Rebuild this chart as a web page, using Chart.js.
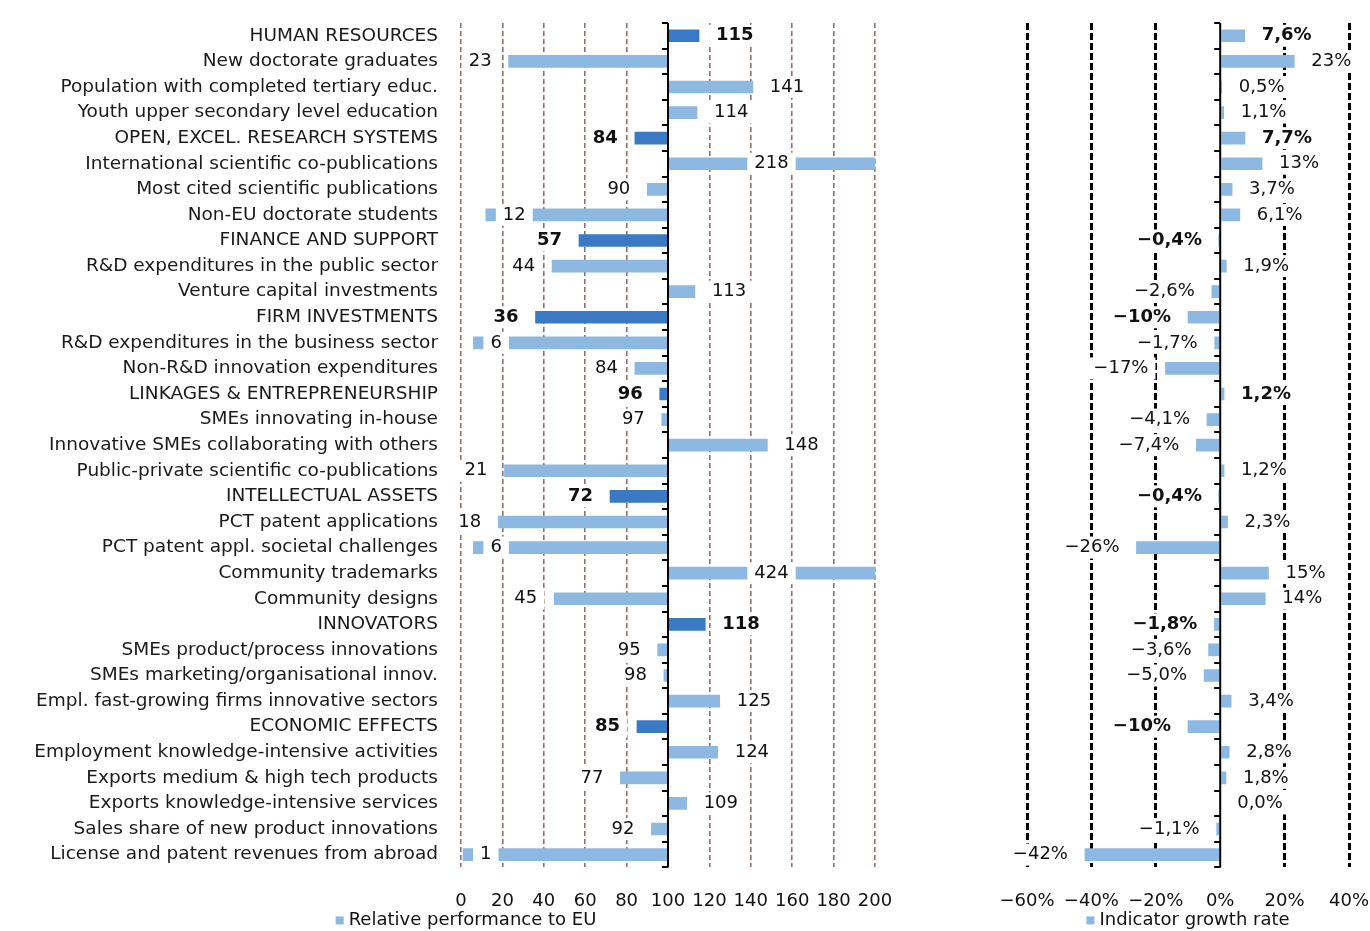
<!DOCTYPE html>
<html>
<head>
<meta charset="utf-8">
<script src="https://cdn.jsdelivr.net/npm/chart.js@4/dist/chart.umd.min.js"></script>
<style>
  body { margin: 0; background: #fff; overflow: hidden; }
  #leftBox, #rightBox { position: absolute; top: 0; height: 931px; overflow: hidden; }
  #leftBox { left: 0; }
  #rightBox { left: 990px; }
</style>
</head>
<body>
<div id="leftBox"><canvas id="perfChart" width="932" height="955"></canvas></div>
<div id="rightBox"><canvas id="growthChart" width="380" height="955"></canvas></div>
<script>
const categories = [
  'HUMAN RESOURCES',
  'New doctorate graduates',
  'Population with completed tertiary educ.',
  'Youth upper secondary level education',
  'OPEN, EXCEL. RESEARCH SYSTEMS',
  'International scientific co-publications',
  'Most cited scientific publications',
  'Non-EU doctorate students',
  'FINANCE AND SUPPORT',
  'R&D expenditures in the public sector',
  'Venture capital investments',
  'FIRM INVESTMENTS',
  'R&D expenditures in the business sector',
  'Non-R&D innovation expenditures',
  'LINKAGES & ENTREPRENEURSHIP',
  'SMEs innovating in-house',
  'Innovative SMEs collaborating with others',
  'Public-private scientific co-publications',
  'INTELLECTUAL ASSETS',
  'PCT patent applications',
  'PCT patent appl. societal challenges',
  'Community trademarks',
  'Community designs',
  'INNOVATORS',
  'SMEs product/process innovations',
  'SMEs marketing/organisational innov.',
  'Empl. fast-growing firms innovative sectors',
  'ECONOMIC EFFECTS',
  'Employment knowledge-intensive activities',
  'Exports medium & high tech products',
  'Exports knowledge-intensive services',
  'Sales share of new product innovations',
  'License and patent revenues from abroad'
];

// rows that are dimension headers (bold labels, darker bars)
const headerRows = [0, 4, 8, 11, 14, 18, 23, 27];

const relPerformance = [115, 23, 141, 114, 84, 218, 90, 12, 57, 44, 113, 36, 6, 84, 96, 97, 148,
  21, 72, 18, 6, 424, 45, 118, 95, 98, 125, 85, 124, 77, 109, 92, 1];

const growthRate = [7.6, 23, 0.5, 1.1, 7.7, 13, 3.7, 6.1, -0.4, 1.9, -2.6, -10, -1.7, -17, 1.2,
  -4.1, -7.4, 1.2, -0.4, 2.3, -26, 15, 14, -1.8, -3.6, -5.0, 3.4, -10, 2.8, 1.8, 0.0, -1.1, -42];

const perfTicks = [0, 20, 40, 60, 80, 100, 120, 140, 160, 180, 200];
const growthTicks = [-60, -40, -20, 0, 20, 40];

const lightBlue = '#8cb8e2';
const darkBlue = '#3a7ac4';
const FONT = 'DejaVu Sans';
const MINUS = '\u2212';

Chart.defaults.font.family = FONT;
Chart.defaults.font.size = 18;
Chart.defaults.color = '#1a1a1a';
Chart.defaults.animation = false;

function fmtGrowth(v) {
  const a = Math.abs(v);
  const s = (a >= 10 ? a.toFixed(0) : a.toFixed(1)).replace('.', ',');
  return (v < 0 ? MINUS : '') + s + '%';
}

// no extra room for tick label overhang, the plot area is placed by the padding
function noOverhang(s) {
  s.paddingTop = 0; s.paddingBottom = 0; s.paddingLeft = 0; s.paddingRight = 0;
}

// axis line drawn at the base value with small ticks between the rows
const baseAxis = {
  id: 'baseAxis',
  afterDatasetsDraw(chart, args, opts) {
    const { ctx, chartArea, scales: { x, y } } = chart;
    const px = x.getPixelForValue(opts.at);
    ctx.save();
    ctx.strokeStyle = '#000';
    ctx.lineWidth = 2;
    ctx.beginPath();
    ctx.moveTo(px, chartArea.top);
    ctx.lineTo(px, chartArea.bottom);
    for (let i = 0; i <= categories.length; i++) {
      const yy = Math.round(y.getPixelForValue(i - 0.5));
      ctx.moveTo(px - 6, yy);
      ctx.lineTo(px, yy);
    }
    ctx.stroke();
    ctx.restore();
  }
};

// value labels with white boxes behind them
const valueLabels = {
  id: 'valueLabels',
  afterDatasetsDraw(chart, args, opts) {
    const { ctx, chartArea, scales: { x, y } } = chart;
    const gap = 17, pad = 7;
    ctx.save();
    ctx.textBaseline = 'middle';
    opts.values.forEach((v, i) => {
      const head = headerRows.includes(i);
      const txt = opts.format(v);
      ctx.font = (head ? 'bold ' : '') + '18px "' + FONT + '"';
      const w = ctx.measureText(txt).width;
      const yy = y.getPixelForValue(i);
      const end = x.getPixelForValue(Math.min(Math.max(v, x.min), x.max));
      let tx;
      if (v > x.max) {
        const mid = (x.getPixelForValue(opts.base) + x.getPixelForValue(x.max)) / 2;
        tx = mid - w / 2;
      } else if (v >= opts.base) {
        tx = end + gap;
      } else {
        tx = end - gap - w;
        if (tx < chartArea.left - opts.slack) tx = end + gap;
      }
      ctx.fillStyle = '#fff';
      ctx.fillRect(tx - pad, yy - 11, w + pad * 2, 22);
      ctx.fillStyle = '#111';
      ctx.fillText(txt, tx, yy);
    });
    ctx.restore();
  }
};

// small square marker and series name under the tick labels
const bottomLegend = {
  id: 'bottomLegend',
  afterDraw(chart, args, opts) {
    const { ctx, chartArea } = chart;
    const label = chart.data.datasets[0].label;
    ctx.save();
    ctx.font = '18px "' + FONT + '"';
    const w = ctx.measureText(label).width;
    const x0 = opts.cx - (w + 13) / 2;
    const yy = chartArea.bottom + 53;
    ctx.fillStyle = lightBlue;
    ctx.fillRect(x0, yy - 4, 8, 8);
    ctx.fillStyle = '#111';
    ctx.textBaseline = 'middle';
    ctx.fillText(label, x0 + 13, yy);
    ctx.restore();
  }
};

new Chart(document.getElementById('perfChart'), {
  type: 'bar',
  data: {
    labels: categories,
    datasets: [{
      label: 'Relative performance to EU',
      data: relPerformance.map(v => [100, v]),
      backgroundColor: c => headerRows.includes(c.dataIndex) ? darkBlue : lightBlue,
      barThickness: 12,
      borderSkipped: false
    }]
  },
  options: {
    indexAxis: 'y',
    responsive: false,
    layout: { padding: { top: 23, right: 57, left: 0, bottom: 20 } },
    plugins: {
      legend: { display: false },
      tooltip: { enabled: false },
      baseAxis: { at: 100 },
      valueLabels: { values: relPerformance, base: 100, slack: 12, format: v => String(v) },
      bottomLegend: { cx: 466 }
    },
    scales: {
      x: {
        min: 0, max: 200,
        afterBuildTicks: s => { s.ticks = perfTicks.map(v => ({ value: v })); },
        afterFit: noOverhang,
        grid: {
          color: c => c.tick && c.tick.value === 100 ? 'rgba(0,0,0,0)' : '#8d716a',
          lineWidth: 1.6,
          drawTicks: false
        },
        border: { display: false, dash: [5, 3] },
        ticks: { padding: 23, maxRotation: 0, autoSkip: false, color: '#111' }
      },
      y: {
        grid: { display: false, drawTicks: false },
        border: { display: false },
        ticks: { padding: 23, autoSkip: false, color: '#1a1a1a', font: { size: 18.5 } },
        afterFit: s => { s.width = 461; noOverhang(s); }
      }
    }
  },
  plugins: [baseAxis, valueLabels, bottomLegend]
});

new Chart(document.getElementById('growthChart'), {
  type: 'bar',
  data: {
    labels: categories,
    datasets: [{
      label: 'Indicator growth rate',
      data: growthRate,
      backgroundColor: lightBlue,
      barThickness: 12
    }]
  },
  options: {
    indexAxis: 'y',
    responsive: false,
    layout: { padding: { top: 23, right: 21, left: 37, bottom: 20 } },
    plugins: {
      legend: { display: false },
      tooltip: { enabled: false },
      baseAxis: { at: 0 },
      valueLabels: { values: growthRate, base: 0, slack: 30, format: fmtGrowth },
      bottomLegend: { cx: 198 }
    },
    scales: {
      x: {
        min: -60, max: 40,
        afterBuildTicks: s => { s.ticks = growthTicks.map(v => ({ value: v })); },
        afterFit: noOverhang,
        grid: {
          color: c => c.tick && c.tick.value === 0 ? 'rgba(0,0,0,0)' : '#000',
          lineWidth: 3,
          drawTicks: false
        },
        border: { display: false, dash: [7, 3] },
        ticks: {
          padding: 23, maxRotation: 0, autoSkip: false, color: '#111',
          callback: v => (v < 0 ? MINUS + Math.abs(v) : v) + '%'
        }
      },
      y: { display: false }
    }
  },
  plugins: [baseAxis, valueLabels, bottomLegend]
});
</script>
</body>
</html>
